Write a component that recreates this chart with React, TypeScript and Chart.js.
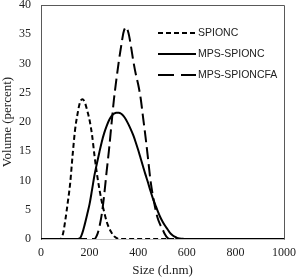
import React, { useEffect, useRef } from "react";
import { Chart, registerables } from "chart.js";

Chart.register(...registerables);

// Size (d.nm) grid shared by all series
const sizes = [
  0, 50, 80, 90, 100, 110, 120, 130, 140, 150, 160, 170, 180, 190, 200, 210, 220, 230, 240, 250,
  260, 270, 280, 290, 300, 310, 320, 330, 340, 350, 360, 370, 380, 390, 400, 410, 420, 430, 440,
  450, 460, 470, 480, 490, 500, 510, 520, 530, 540, 550, 560, 570, 580, 590, 600, 700, 800, 900,
  1000,
];

const spionc = [
  0, 0, 0, 0.8, 3.2, 6.2, 9.5, 14.3, 18.6, 21.3, 23.3, 23.9, 23.4, 22.0, 20.3, 17.8, 14.3, 11.2,
  8.6, 6.4, 4.6, 3.0, 1.9, 1.1, 0.5, 0.2, 0, 0, 0, 0, 0, 0, 0, 0, 0, 0, 0, 0, 0, 0, 0, 0, 0, 0, 0,
  0, 0, 0, 0, 0, 0, 0, 0, 0, 0, 0, 0, 0, 0,
];

const mpsSpionc = [
  0, 0, 0, 0, 0, 0, 0, 0, 0, 0, 0.1, 1.0, 2.5, 4.2, 6.0, 8.4, 10.9, 12.9, 14.8, 16.6, 18.1, 19.3,
  20.3, 21.0, 21.4, 21.6, 21.6, 21.4, 21.0, 20.4, 19.6, 18.7, 17.7, 16.5, 15.2, 13.8, 12.4, 11.0,
  9.7, 8.3, 7.0, 5.9, 4.8, 3.8, 3.0, 2.3, 1.7, 1.1, 0.7, 0.4, 0.2, 0.1, 0.05, 0, 0, 0, 0, 0, 0,
];

const mpsSpioncFa = [
  0, 0, 0, 0, 0, 0, 0, 0, 0, 0, 0, 0, 0, 0, 0, 0, 0, 0.6, 2.0, 4.2, 7.5, 11.5, 15.3, 19.6, 23.8,
  27.2, 30.3, 33.0, 35.4, 36.2, 35.2, 33.0, 30.4, 28.2, 26.4, 24.1, 20.8, 17.5, 13.9, 10.2, 7.5,
  5.3, 3.6, 2.5, 1.7, 0.8, 0.2, 0, 0, 0, 0, 0, 0, 0, 0, 0, 0, 0, 0,
];

const seriesNames = ["SPIONC", "MPS-SPIONC", "MPS-SPIONCFA"];
const xTickValues = [0, 200, 400, 600, 800, 1000];
const yTickValues = [0, 5, 10, 15, 20, 25, 30, 35, 40];

const plotDashes = [[5, 3], [], [12, 5]];
const legendDashes = [[5, 3], [], [16, 7]];

const toPoints = (vals: number[]) => sizes.map((s, i) => ({ x: s, y: vals[i] }));

const framePlugin = {
  id: "frame",
  beforeDatasetsDraw(chart: any) {
    const { ctx, chartArea: a } = chart;
    ctx.save();
    ctx.strokeStyle = "#595959";
    ctx.lineWidth = 1;
    const l = Math.round(a.left) + 0.5;
    const r = Math.round(a.right) + 0.5;
    const t = Math.round(a.top) + 0.5;
    const b = Math.round(a.bottom) + 0.5;
    ctx.beginPath();
    ctx.moveTo(l, b);
    ctx.lineTo(l, t);
    ctx.lineTo(r, t);
    ctx.lineTo(r, b);
    ctx.stroke();
    ctx.restore();
  },
};

const legendPlugin = {
  id: "customLegend",
  afterDraw(chart: any) {
    const { ctx } = chart;
    ctx.save();
    ctx.font = '10.5px "Liberation Sans"';
    ctx.fillStyle = "#222";
    ctx.textBaseline = "middle";
    ctx.textAlign = "left";
    const x0 = 158;
    const x1 = 196;
    const ys = [33, 54, 75];
    seriesNames.forEach((name, i) => {
      ctx.strokeStyle = "#000";
      ctx.lineWidth = 2;
      ctx.setLineDash(legendDashes[i]);
      ctx.beginPath();
      ctx.moveTo(x0, ys[i]);
      ctx.lineTo(x1, ys[i]);
      ctx.stroke();
      ctx.setLineDash([]);
      ctx.fillText(name, 198, ys[i] + 0.5);
    });
    ctx.restore();
  },
};

export default function App() {
  const ref = useRef<HTMLCanvasElement | null>(null);

  useEffect(() => {
    if (!ref.current) return;
    const series = [spionc, mpsSpionc, mpsSpioncFa];
    const chart = new Chart(ref.current, {
      type: "line",
      data: {
        datasets: series.map((vals, i) => ({
          label: seriesNames[i],
          data: toPoints(vals),
          borderColor: "#000",
          borderWidth: 2,
          borderDash: plotDashes[i],
          pointRadius: 0,
          fill: false,
          cubicInterpolationMode: "monotone" as const,
        })),
      },
      options: {
        responsive: false,
        animation: false,
        layout: { padding: { left: 0, right: 13, top: 5, bottom: 0 } },
        plugins: {
          legend: { display: false },
          tooltip: { enabled: false },
        },
        scales: {
          x: {
            type: "linear",
            min: 0,
            max: 1000,
            grid: { display: false, drawTicks: false },
            border: { display: true, color: "#bfbfbf", width: 1 },
            afterBuildTicks: (s: any) => {
              s.ticks = xTickValues.map((v) => ({ value: v }));
            },
            ticks: {
              padding: 7,
              maxRotation: 0,
              color: "#222",
              font: { family: '"Liberation Serif"', size: 12 },
              callback: (v: any) => String(v),
            },
            title: {
              display: true,
              text: "Size (d.nm)",
              color: "#222",
              padding: 0,
              font: { family: '"Liberation Serif"', size: 13 },
            },
            afterFit: (s: any) => {
              s.height = 39;
              s.paddingLeft = 0;
              s.paddingRight = 0;
            },
          },
          y: {
            type: "linear",
            min: 0,
            max: 40,
            grid: { display: false, drawTicks: false },
            border: { display: true, color: "#595959", width: 1 },
            afterBuildTicks: (s: any) => {
              s.ticks = yTickValues.map((v) => ({ value: v }));
            },
            ticks: {
              padding: 10,
              color: "#222",
              font: { family: '"Liberation Serif"', size: 12 },
              callback: (v: any) => String(v),
            },
            title: {
              display: true,
              text: "Volume (percent)",
              color: "#222",
              padding: 0,
              font: { family: '"Liberation Serif"', size: 13 },
            },
            afterFit: (s: any) => {
              s.width = 41;
              s.paddingTop = 0;
              s.paddingBottom = 0;
            },
          },
        },
      },
      plugins: [framePlugin, legendPlugin],
    });
    return () => chart.destroy();
  }, []);

  return (
    <div style={{ position: "absolute", left: 0, top: 0, width: 297, height: 278 }}>
      <canvas ref={ref} width={297} height={278} style={{ width: 297, height: 278 }} />
    </div>
  );
}
